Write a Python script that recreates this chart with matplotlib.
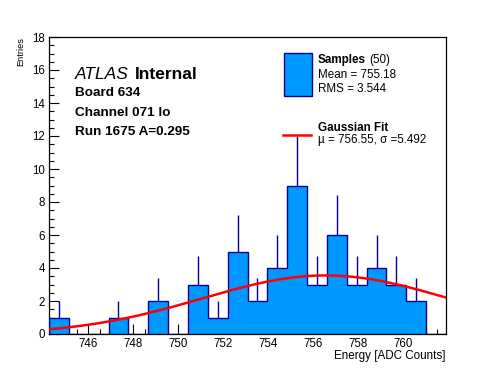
import numpy as np
import matplotlib
matplotlib.use("Agg")
import matplotlib.pyplot as plt
from matplotlib.ticker import MultipleLocator

plt.rcParams['font.family'] = ['Liberation Sans', 'DejaVu Sans']

# Histogram data
x_min, x_max = 744.25, 761.9
n_bins = 20
counts = [1, 0, 0, 1, 0, 2, 0, 3, 1, 5, 2, 4, 9, 3, 6, 3, 4, 3, 2, 0]

# Gaussian fit parameters
fit_mu = 756.55
fit_sigma = 5.492
fit_amp = 3.55

board = 634
channel = "071 lo"
run = 1675
amp_label = 0.295
n_samples = 50
mean, rms = 755.18, 3.544

fill_color = '#0099ff'
edge_color = '#000099'

edges = np.linspace(x_min, x_max, n_bins + 1)
centers = 0.5 * (edges[:-1] + edges[1:])
counts = np.array(counts, dtype=float)

fig = plt.figure(figsize=(4.96, 3.72), dpi=100)
ax = fig.add_axes([49 / 496, 38 / 372, 397 / 496, 297 / 372])

# error bars sit behind the filled histogram, only the upper part shows
nz = counts > 0
ax.errorbar(centers[nz], counts[nz], yerr=np.sqrt(counts[nz]), fmt='none',
            ecolor=edge_color, elinewidth=1, capsize=0, zorder=1)
ax.stairs(counts, edges, fill=True, color=fill_color, zorder=2)
ax.stairs(counts, edges, baseline=0, color=edge_color, linewidth=1, zorder=3)

# fitted gaussian
xf = np.linspace(x_min, x_max, 400)
yf = fit_amp * np.exp(-0.5 * ((xf - fit_mu) / fit_sigma) ** 2)
ax.plot(xf, yf, color='red', linewidth=1.8, zorder=4)

ax.set_xlim(x_min, x_max)
ax.set_ylim(0, 18)
ax.xaxis.set_major_locator(MultipleLocator(2))
ax.xaxis.set_minor_locator(MultipleLocator(0.5))
ax.yaxis.set_major_locator(MultipleLocator(2))
ax.yaxis.set_minor_locator(MultipleLocator(0.5))
ax.tick_params(which='both', direction='in', top=False, right=False,
               labelsize=8.3, width=0.8)
ax.tick_params(which='major', length=7, pad=3)
ax.tick_params(which='minor', length=3.5)
for s in ax.spines.values():
    s.set_linewidth(0.9)

ax.set_xlabel("Energy [ADC Counts]", fontsize=8.4, loc='right', labelpad=0)
ax.set_ylabel("Entries", fontsize=6.6, loc='top', labelpad=5)

# ATLAS label block
t = ax.text(0.066, 0.875, "ATLAS", transform=ax.transAxes, fontsize=12.5,
            style='italic', va='center')
ax.annotate("Internal", xy=(1, 0.5), xycoords=t, xytext=(4.5, 0),
            textcoords='offset points', fontsize=12.5, weight='bold',
            va='center')
ax.text(0.066, 0.81, f"Board {board}", transform=ax.transAxes, fontsize=9.7,
        weight='bold', va='center')
ax.text(0.066, 0.745, f"Channel {channel}", transform=ax.transAxes,
        fontsize=9.7, weight='bold', va='center')
ax.text(0.066, 0.68, f"Run {run} A={amp_label}", transform=ax.transAxes,
        fontsize=9.7, weight='bold', va='center')

# legend drawn by hand in ROOT style
fx = lambda px: (px - 49) / 397
fy = lambda py: (335 - py) / 297
ax.add_patch(plt.Rectangle((fx(283.5), fy(96.5)), fx(311.5) - fx(283.5),
                           fy(53.5) - fy(96.5), transform=ax.transAxes,
                           facecolor=fill_color, edgecolor=edge_color,
                           linewidth=1, zorder=5))
s = ax.text(fx(317.5), fy(61.5), "Samples", transform=ax.transAxes,
            fontsize=8.4, weight='bold', va='center')
ax.annotate(f"({n_samples})", xy=(1, 0.5), xycoords=s, xytext=(2.5, 0),
            textcoords='offset points', fontsize=8.4, va='center')
ax.text(fx(317.5), fy(76.5), f"Mean = {mean:.2f}", transform=ax.transAxes,
        fontsize=8.4, va='center')
ax.text(fx(317.5), fy(90), f"RMS = {rms:.3f}", transform=ax.transAxes,
        fontsize=8.4, va='center')
ax.plot([fx(283), fx(311)], [fy(136), fy(136)], transform=ax.transAxes,
        color='red', linewidth=1.8, zorder=5)
ax.text(fx(317.5), fy(129), "Gaussian Fit", transform=ax.transAxes,
        fontsize=8.4, weight='bold', va='center')
ax.text(fx(317.5), fy(141.5), f"\u00b5 = {fit_mu:.2f}, \u03c3 ={fit_sigma:.3f}",
        transform=ax.transAxes, fontsize=8.4, va='center')

fig.savefig("out.png", dpi=100)
